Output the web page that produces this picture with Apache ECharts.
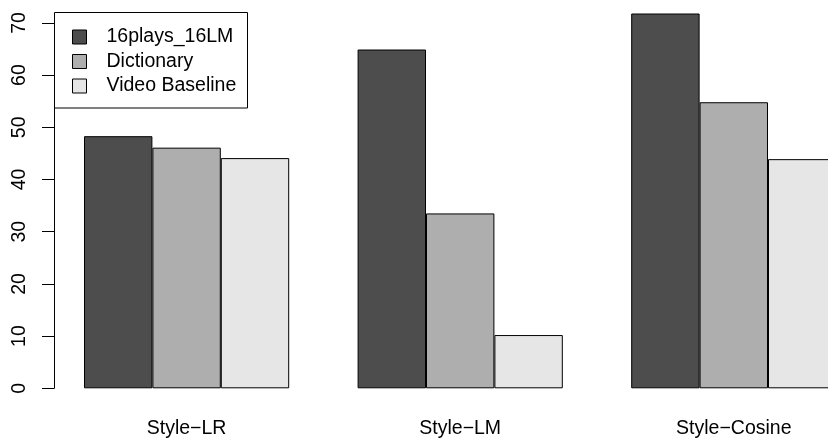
<!DOCTYPE html>
<html><head><meta charset="utf-8">
<script src="https://cdn.jsdelivr.net/npm/echarts@6/dist/echarts.min.js"></script>
<style>html,body{margin:0;padding:0;background:#fff}#c{width:828px;height:438px}</style>
</head><body><div id="c"></div>
<script>
var categories = ['Style\u2212LR', 'Style\u2212LM', 'Style\u2212Cosine'];
var seriesNames = ['16plays_16LM', 'Dictionary', 'Video Baseline'];
var plays16 = [48.3, 64.9, 71.8];
var dictionary = [46.1, 33.5, 54.8];
var videoBaseline = [44.1, 10.2, 43.9];
var yTicks = [0, 10, 20, 30, 40, 50, 60, 70];
var colors = ['#4D4D4D', '#AEAEAE', '#E6E6E6'];

var font = 'Liberation Sans, Arial, Helvetica, sans-serif';
var chart = echarts.init(document.getElementById('c'));
var data = [plays16, dictionary, videoBaseline];
chart.setOption({
  animation: false,
  backgroundColor: '#fff',
  grid: {left: 49.8, width: 820.8, top: 22.9, bottom: 49.7, containLabel: false, outerBoundsMode: 'none'},
  xAxis: {
    type: 'category', data: categories,
    axisLine: {show: false}, axisTick: {show: false},
    axisLabel: {color: '#000', fontFamily: font, fontSize: 19.5, margin: 30}
  },
  yAxis: {
    type: 'value', min: yTicks[0], max: yTicks[yTicks.length - 1], interval: 10,
    offset: -4.2,
    splitLine: {show: false},
    axisLine: {show: true, lineStyle: {color: '#000', width: 1}},
    axisTick: {show: true, length: 12, lineStyle: {color: '#000', width: 1}},
    axisLabel: {color: '#000', fontFamily: font, fontSize: 19.5, rotate: 90, margin: 24}
  },
  legend: {
    orient: 'vertical', left: 72, top: 27, padding: 0,
    itemWidth: 14, itemHeight: 14, itemGap: 4.5,
    icon: 'rect',
    data: seriesNames,
    itemStyle: {borderColor: '#000', borderWidth: 1},
    textStyle: {color: '#000', fontFamily: font, fontSize: 19.5, lineHeight: 20, padding: [0, 0, 0, 15]}
  },
  graphic: [{
    type: 'rect', z: 1,
    shape: {x: 54.5, y: 12.5, width: 193, height: 95.5},
    style: {fill: '#fff', stroke: '#000', lineWidth: 1}
  }],
  series: seriesNames.map(function (n, i) {
    return {
      name: n, type: 'bar', data: data[i], clip: false,
      barGap: '0%', barCategoryGap: '25%',
      itemStyle: {color: colors[i], borderColor: '#000', borderWidth: 1}
    };
  })
});
</script></body></html>
